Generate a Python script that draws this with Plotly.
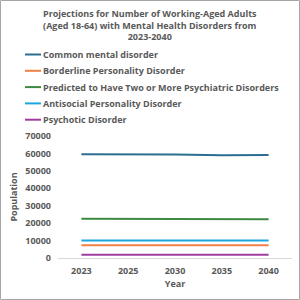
import plotly.graph_objects as go

years = ["2023", "2025", "2030", "2035", "2040"]
series_names = [
    "Common mental disorder",
    "Borderline Personality Disorder",
    "Predicted to Have Two or More Psychiatric Disorders",
    "Antisocial Personality Disorder",
    "Psychotic Disorder",
]
common = [59500, 59500, 59400, 58900, 59100]
borderline = [7300, 7300, 7300, 7300, 7300]
two_or_more = [22500, 22500, 22400, 22300, 22300]
antisocial = [10100, 10100, 10100, 10100, 10100]
psychotic = [1900, 1900, 1900, 1900, 1900]
values = [common, borderline, two_or_more, antisocial, psychotic]
colors = ["#2C6E91", "#F08048", "#3C8A40", "#1AA6DF", "#A03CA0"]

FONT = "Open Sans"
GRAY = "#595959"

fig = go.Figure()
for name, vals, col in zip(series_names, values, colors):
    fig.add_trace(go.Scatter(x=years, y=vals, mode="lines", name=name,
                             line=dict(color=col, width=2), showlegend=False))

L, R, T, B = 58, 8, 136, 42
W, H = 300, 300
pw, ph = W - L - R, H - T - B
def px(x):
    return (x - L) / pw
def py(y):
    return (H - B - y) / ph

shapes = []
annotations = []
for i, (name, col) in enumerate(zip(series_names, colors)):
    yy = 54.5 + i * 16.3
    shapes.append(dict(type="line", xref="paper", yref="paper",
                       x0=px(25), x1=px(41), y0=py(yy), y1=py(yy),
                       line=dict(color=col, width=2)))
    annotations.append(dict(xref="paper", yref="paper", x=px(41), y=py(yy),
                            xanchor="left", yanchor="middle", showarrow=False,
                            text="<b>" + name + "</b>",
                            font=dict(family=FONT, size=9, color=GRAY)))

annotations.append(dict(xref="paper", yref="paper", x=px(150), y=py(5),
                        xanchor="center", yanchor="top", showarrow=False,
                        align="center",
                        text="<b>Projections for Number of Working-Aged Adults<br>(Aged 18-64) with Mental Health Disorders from<br>2023-2040</b>",
                        font=dict(family=FONT, size=9, color=GRAY)))

shapes.append(dict(type="rect", xref="paper", yref="paper",
                   x0=px(0.5), x1=px(299.5), y0=py(299.5), y1=py(0.5),
                   line=dict(color="#A6A6A6", width=1)))

fig.update_layout(
    width=W, height=H,
    margin=dict(l=L, r=R, t=T, b=B),
    paper_bgcolor="white", plot_bgcolor="white",
    shapes=shapes, annotations=annotations,
    xaxis=dict(type="category", range=[-0.5, 4.5], showgrid=False,
               showline=True, linecolor="#D9D9D9", linewidth=1, ticks="",
               ticklabelstandoff=4,
               tickfont=dict(family=FONT, size=9, color=GRAY),
               title=dict(text="<b>Year</b>", standoff=4,
                          font=dict(family=FONT, size=9, color=GRAY))),
    yaxis=dict(range=[0, 70000], dtick=10000, showgrid=False, zeroline=False,
               showline=False, ticks="", tickformat="d",
               ticklabelstandoff=6,
               tickfont=dict(family=FONT, size=9, color=GRAY),
               title=dict(text="<b>Population</b>", standoff=6,
                          font=dict(family=FONT, size=9, color=GRAY))),
)
fig.update_xaxes(tickprefix="<b>", ticksuffix="</b>")
fig.update_yaxes(tickprefix="<b>", ticksuffix="</b>")
fig.write_html("out.html")
